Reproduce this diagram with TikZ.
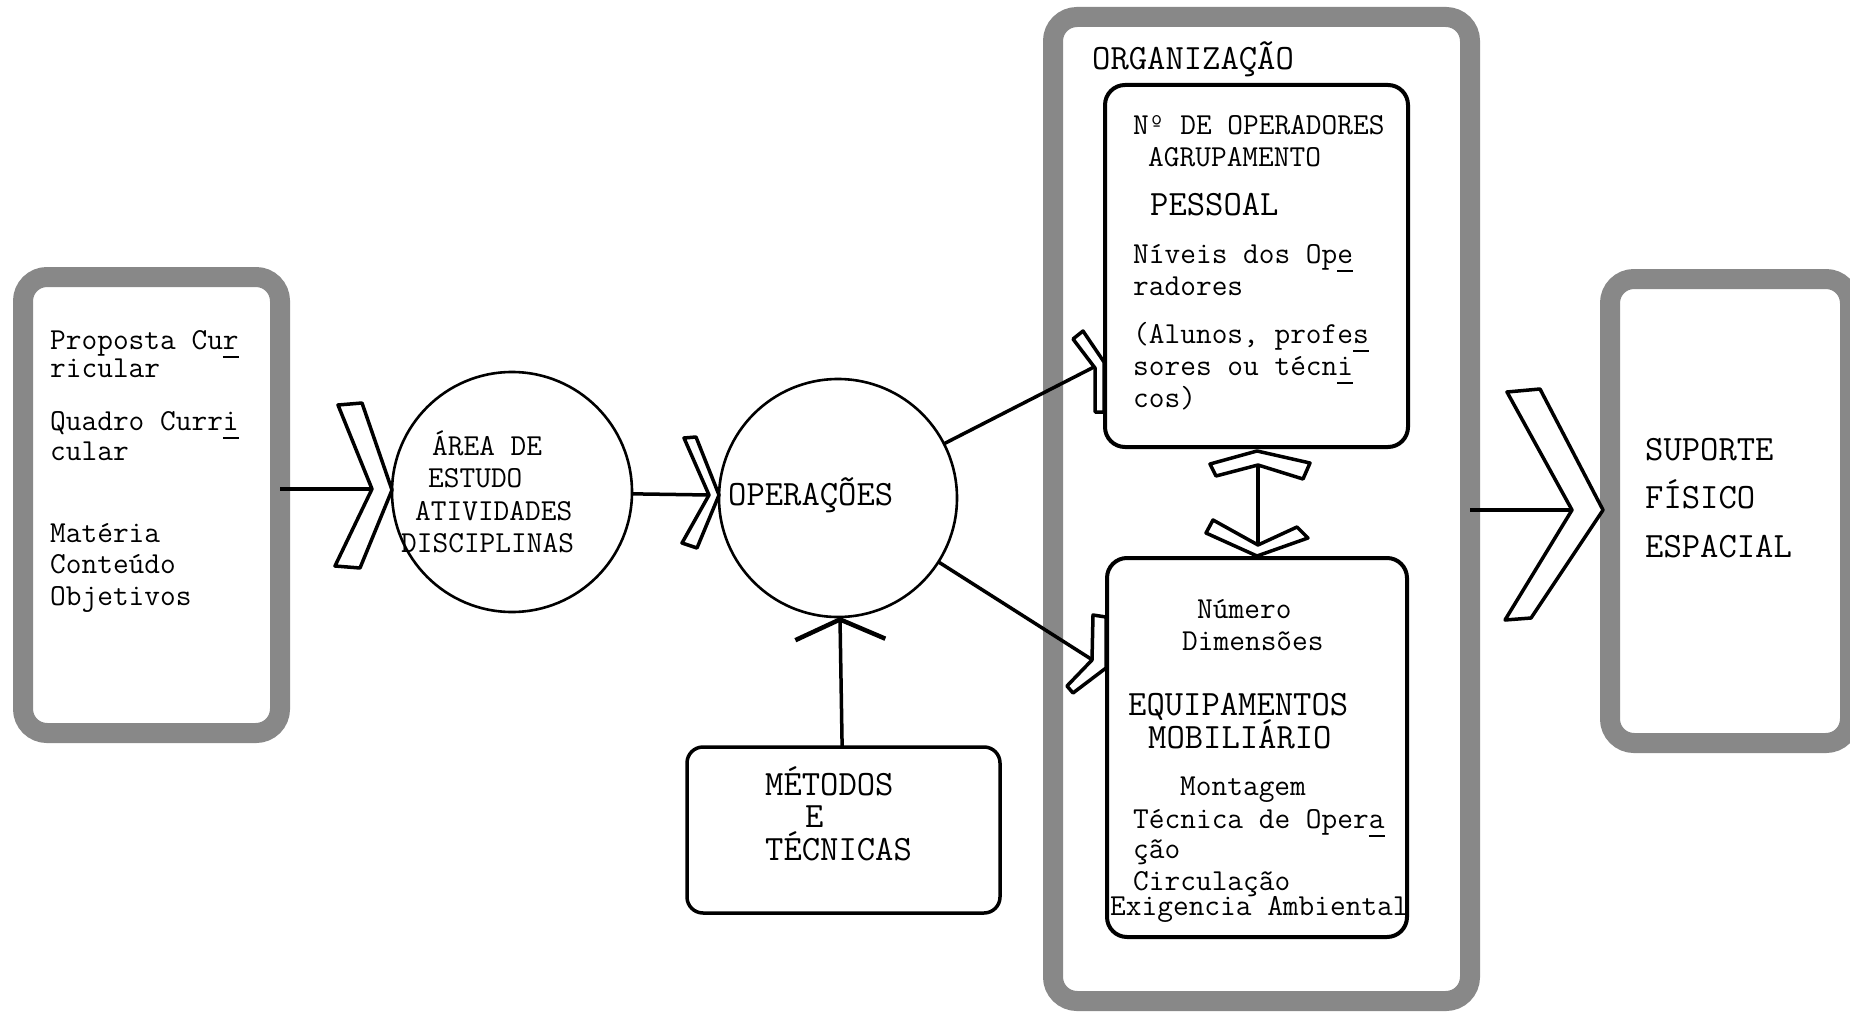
\documentclass[tikz,border=0pt]{standalone}
\usepackage{fontspec}
\usetikzlibrary{arrows.meta}
\definecolor{bandgray}{RGB}{136,136,136}
% typewriter faces: the elite pitch for running text, the wider pitch for headings
\newcommand{\typefont}{\fontsize{30.5}{31}\selectfont\ttfamily}
\newcommand{\capsfont}{\fontsize{35.6}{34}\selectfont\ttfamily}
% hyphenation mark: a typed underline under one character
\newcommand{\typeul}[1]{\rlap{\rule[-9pt]{0.525em}{2pt}}#1}

\begin{document}
\begin{tikzpicture}[x=1pt,y=-1pt,
  band/.style={draw=bandgray, line width=20pt, rounded corners=24pt, inner sep=0pt, outer sep=0pt},
  inbox/.style={draw=black, line width=4pt, rounded corners=20pt, inner sep=0pt, outer sep=0pt},
  metbox/.style={draw=black, line width=3.5pt, rounded corners=16pt, inner sep=0pt, outer sep=0pt},
  circ/.style={circle, draw=black, line width=2.6pt, inner sep=0pt, outer sep=0pt, minimum size=#1},
  chev/.style={draw=black, line width=3.5pt, line join=round, fill=white},
  conn/.style={draw=black, line width=3.5pt},
  txt/.style={font=\typefont, inner sep=0pt, anchor=base west},
  captxt/.style={font=\capsfont, inner sep=0pt, anchor=base west},
]
\fill[white] (0,0) rectangle (1850,1014);
\useasboundingbox (0,0) rectangle (1850,1014);

% ---- frames ----
\node[band, minimum width=257pt, minimum height=456pt] (curr) at (151.5,505) {};
\node[band, minimum width=417pt, minimum height=984pt] (org) at (1261.5,509) {};
\node[band, minimum width=240pt, minimum height=464pt] (sup) at (1730,511) {};
\node[inbox, minimum width=303pt, minimum height=362pt] (pes) at (1256.5,266) {};
\node[inbox, minimum width=300pt, minimum height=379pt] (equ) at (1257,747.5) {};
\node[metbox, minimum width=313pt, minimum height=166pt] (met) at (843.5,830) {};
\node[circ=240pt] (area) at (512,492) {};
\node[circ=238pt] (ops) at (838,498) {};

% ---- hollow chevron heads ----
\draw[chev] (338,405) -- (362,403) -- (392,490) -- (360,568) -- (335,566) -- (372,489) -- cycle;
\coordinate (i1) at (372,489);
\draw[chev] (684,438) -- (696,437) -- (719,495) -- (697,548) -- (682,543) -- (709,495) -- cycle;
\coordinate (i2) at (709,495);
\draw[chev] (1507,392) -- (1540,389) -- (1603,510) -- (1531,618) -- (1505,620) -- (1572,510) -- cycle;
\coordinate (i3) at (1572,510);
\draw[chev] (1073,339) -- (1083,331) -- (1104,362) -- (1104,412) -- (1095,412) -- (1095,368) -- cycle;
\coordinate (iU) at (1094,367);
\draw[chev] (1093,615) -- (1106,617) -- (1106,668) -- (1073,693) -- (1067,686) -- (1092,660) -- cycle;
\coordinate (iL) at (1091,659);
\draw[chev] (1210,464) -- (1257,451) -- (1310,463) -- (1303,479) -- (1258,465) -- (1216,476) -- cycle;
\coordinate (iDU) at (1258,465);
\draw[chev] (1213,520) -- (1258,545) -- (1297,527) -- (1308,538) -- (1257,556) -- (1206,533) -- cycle;
\coordinate (iDD) at (1258,545);

% ---- connectors ----
\draw[conn, line width=4pt] (i1 -| curr.east) -- (i1);
\draw[conn] (area) -- (i2);
\draw[conn] (ops) -- (iU);
\draw[conn] (ops) -- (iL);
\draw[conn] (iDU) -- (iDD);
\draw[conn] (i3 -| org.east) -- (i3);
\draw[conn, -{Straight Barb[length=20pt, width=90pt, line width=4.5pt]}] (met) -- (ops);

% ---- texts ----
\node[txt] (cur1) at (50,349) {Proposta Cu\typeul{r}};
\node[txt] (cur2) at (50,377) {ricular};
\node[txt] (cur3) at (50,430) {Quadro Curr\typeul{i}};
\node[txt] (cur4) at (50,460) {cular};
\node[txt] (cur5) at (50,542) {Matéria};
\node[txt] (cur6) at (50,573) {Conteúdo};
\node[txt] (cur7) at (50,605) {Objetivos};

\node[txt] (are1) at (432,455) {ÁREA DE};
\node[txt] (are2) at (428,487) {ESTUDO};
\node[txt] (are3) at (415,520) {ATIVIDADES};
\node[txt] (are4) at (401,552) {DISCIPLINAS};

\node[captxt] (ops1) at (728,505) {OPERAÇÕES};

\node[captxt] (met1) at (765,795) {MÉTODOS};
\node[captxt] (met2) at (805,827) {E};
\node[captxt] (met3) at (765,860) {TÉCNICAS};

\node[captxt] (org1) at (1092,70) {ORGANIZAÇÃO};

\node[txt] (pes1) at (1133,135) {Nº DE OPERADORES};
\node[txt] (pes2) at (1148,167) {AGRUPAMENTO};
\node[captxt] (pes3) at (1150,215) {PESSOAL};
\node[txt] (pes4) at (1133,263) {Níveis dos Op\typeul{e}};
\node[txt] (pes5) at (1133,295) {radores};
\node[txt] (pes6) at (1133,343) {(Alunos, profe\typeul{s}};
\node[txt] (pes7) at (1133,375) {sores ou técn\typeul{i}};
\node[txt] (pes8) at (1133,407) {cos)};

\node[txt] (equ1) at (1197,618) {Número};
\node[txt] (equ2) at (1182,650) {Dimensões};
\node[captxt] (equ3) at (1128,715) {EQUIPAMENTOS};
\node[captxt] (equ4) at (1148,748) {MOBILIÁRIO};
\node[txt] (equ5) at (1180,795) {Montagem};
\node[txt] (equ6) at (1133,828) {Técnica de Oper\typeul{a}};
\node[txt] (equ7) at (1133,858) {ção};
\node[txt] (equ8) at (1133,890) {Circulação};
\node[txt] (equ9) at (1110,915) {Exigencia Ambiental};

\node[captxt] (sup1) at (1645,460) {SUPORTE};
\node[captxt] (sup2) at (1645,508) {FÍSICO};
\node[captxt] (sup3) at (1645,557) {ESPACIAL};
\end{tikzpicture}
\end{document}
